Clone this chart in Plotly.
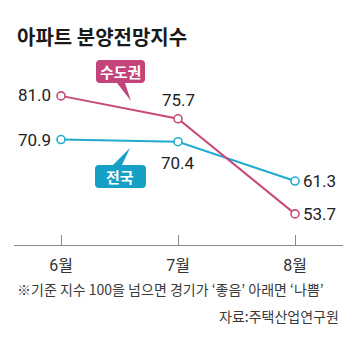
import plotly.graph_objects as go

months = ["6월", "7월", "8월"]
capital = [81.0, 75.7, 53.7]
national = [70.9, 70.4, 61.3]

PINK_LINE = "#c84a7a"
PINK_BOX = "#c2447a"
CYAN_LINE = "#22abd0"
CYAN_BOX = "#16a0c6"
TXT = "#222222"

W, H = 352, 352
L, R, T, B = 14, 9, 60, 107
PW, PH = W - L - R, H - T - B

xs = list(range(len(months)))

fig = go.Figure()
fig.add_trace(go.Scatter(x=xs, y=national, mode="lines+markers",
                         line=dict(color=CYAN_LINE, width=2),
                         marker=dict(size=8, color="white", line=dict(color=CYAN_LINE, width=1.6)),
                         hoverinfo="skip"))
fig.add_trace(go.Scatter(x=xs, y=capital, mode="lines+markers",
                         line=dict(color=PINK_LINE, width=2),
                         marker=dict(size=8, color="white", line=dict(color=PINK_LINE, width=1.6)),
                         hoverinfo="skip"))

def px2paper(px, py):
    return (px - L) / PW, (H - B - py) / PH

def callout(x0, y0, x1, y1, r, tail, up):
    bl, br, tx, ty = tail
    def P(x, y):
        a, b = px2paper(x, y)
        return f"{a:.5f},{b:.5f}"
    d = f"M {P(x0 + r, y0)} "
    if up:
        d += f"L {P(bl, y0)} L {P(tx, ty)} L {P(br, y0)} "
    d += f"L {P(x1 - r, y0)} Q {P(x1, y0)} {P(x1, y0 + r)} "
    d += f"L {P(x1, y1 - r)} Q {P(x1, y1)} {P(x1 - r, y1)} "
    if not up:
        d += f"L {P(br, y1)} L {P(tx, ty)} L {P(bl, y1)} "
    d += f"L {P(x0 + r, y1)} Q {P(x0, y1)} {P(x0, y1 - r)} "
    d += f"L {P(x0, y0 + r)} Q {P(x0, y0)} {P(x0 + r, y0)} Z"
    return d

shapes = [
    dict(type="path", xref="paper", yref="paper",
         path=callout(96, 60, 145, 83, 4, (117, 125, 131, 101), False),
         fillcolor=PINK_BOX, line=dict(width=0), layer="above"),
    dict(type="path", xref="paper", yref="paper",
         path=callout(95, 165, 146, 188, 4, (113, 122, 130, 148), True),
         fillcolor=CYAN_BOX, line=dict(width=0), layer="above"),
]

ann = []
num_font = dict(family="Roboto", size=17, color=TXT)
fmt = lambda v: f"{v:.1f}"
ann.append(dict(x=xs[0], y=capital[0], text=fmt(capital[0]), xanchor="right", yanchor="middle", xshift=-8, yshift=1))
ann.append(dict(x=xs[1], y=capital[1], text=fmt(capital[1]), xanchor="center", yanchor="bottom", yshift=7))
ann.append(dict(x=xs[2], y=capital[2], text=fmt(capital[2]), xanchor="left", yanchor="middle", xshift=6))
ann.append(dict(x=xs[0], y=national[0], text=fmt(national[0]), xanchor="right", yanchor="middle", xshift=-8))
ann.append(dict(x=xs[1], y=national[1], text=fmt(national[1]), xanchor="center", yanchor="top", yshift=-9))
ann.append(dict(x=xs[2], y=national[2], text=fmt(national[2]), xanchor="left", yanchor="middle", xshift=6))
for a in ann:
    a.update(xref="x", yref="y", showarrow=False, font=num_font)

def text_at(px, py, text, anchor, size, color, bold=False):
    x, y = px2paper(px, py)
    return dict(x=x, y=y, xref="paper", yref="paper", text=f"<b>{text}</b>" if bold else text,
                showarrow=False, xanchor=anchor, yanchor="middle",
                font=dict(family="Noto Sans CJK KR", size=size, color=color))

ann.append(text_at(120.5, 71.5, "수도권", "center", 15, "white", True))
ann.append(text_at(120.5, 176.5, "전국", "center", 15, "white", True))
ann.append(text_at(15, 36, "아파트 분양전망지수", "left", 20, "#1a1a1a", True))
ann.append(text_at(15, 289, "※기준 지수 100을 넘으면 경기가 ‘좋음’ 아래면 ‘나쁨’", "left", 14, "#3a3a3a"))
ann.append(text_at(341, 316, "자료:주택산업연구원", "right", 14, "#3a3a3a"))

fig.update_layout(
    width=W, height=H, margin=dict(l=L, r=R, t=T, b=B, pad=0),
    paper_bgcolor="white", plot_bgcolor="white",
    showlegend=False, shapes=shapes, annotations=ann,
    xaxis=dict(range=[-0.4017, 2.4103], tickvals=xs, ticktext=months, showgrid=False, zeroline=False,
               showline=True, linecolor="#8a8a8a", linewidth=1.2, ticks="inside", ticklen=10,
               tickcolor="#8a8a8a", tickwidth=1.2, ticklabelstandoff=6,
               tickfont=dict(family="Roboto, Noto Sans CJK KR", size=16, color="#333")),
    yaxis=dict(range=[46.5, 89.3], visible=False, showgrid=False, zeroline=False),
)

fig.write_html("out.html")
